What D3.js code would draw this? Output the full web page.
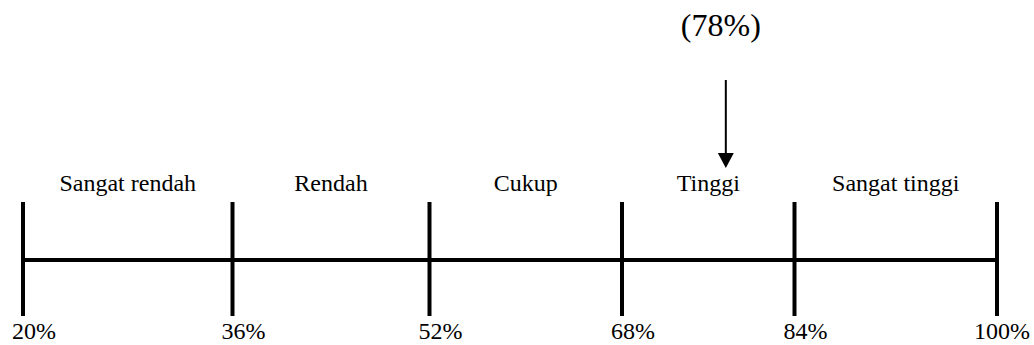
<!DOCTYPE html>
<html>
<head>
<meta charset="utf-8">
<script src="https://cdn.jsdelivr.net/npm/d3@7"></script>
<style>
  html, body { margin: 0; padding: 0; background: #fff; }
  svg { display: block; }
  text { font-family: "Liberation Serif", "Times New Roman", serif; fill: #000; }
</style>
</head>
<body>
<svg id="chart" width="1034" height="345"></svg>
<script>
// ---- data ----
const tickValues = [20, 36, 52, 68, 84, 100];
const tickLabels = ["20%", "36%", "52%", "68%", "84%", "100%"];
const categories = ["Sangat rendah", "Rendah", "Cukup", "Tinggi", "Sangat tinggi"];
const markerValue = [78];
const markerLabel = ["(78%)"];

// ---- layout ----
const W = 1034, H = 345;
const svg = d3.select("#chart");
// polylinear scale: reference spacing between breakpoints is not uniform
const x = d3.scaleLinear()
  .domain(tickValues)
  .range([23, 232.5, 429.5, 622, 794.5, 997]);

const lineY = 260, tickTop = 202, tickBottom = 316;

// main horizontal line
svg.append("line")
  .attr("x1", x(tickValues[0])).attr("x2", x(tickValues[tickValues.length - 1]))
  .attr("y1", lineY).attr("y2", lineY)
  .attr("stroke", "#000").attr("stroke-width", 4);

// ticks
svg.selectAll("line.tick").data(tickValues).join("line")
  .attr("class", "tick")
  .attr("x1", d => x(d)).attr("x2", d => x(d))
  .attr("y1", tickTop).attr("y2", tickBottom)
  .attr("stroke", "#000").attr("stroke-width", 4);

// tick labels
const tl = svg.selectAll("text.tl").data(tickValues).join("text")
  .attr("class", "tl")
  .attr("y", 338.5)
  .attr("font-size", 24)
  .attr("text-anchor", "start")
  .text((d, i) => tickLabels[i]);
tl.each(function(d) {
  const w = this.getComputedTextLength();
  const px = Math.min(x(d) - 11, W - 4 - w);
  d3.select(this).attr("x", px);
});

// category labels centered in each segment
svg.selectAll("text.cat").data(categories).join("text")
  .attr("class", "cat")
  .attr("x", (d, i) => (x(tickValues[i]) + x(tickValues[i + 1])) / 2)
  .attr("y", 190.5)
  .attr("font-size", 24)
  .attr("text-anchor", "middle")
  .text(d => d);

// marker arrow
const mx = x(markerValue[0]) - 4;
svg.append("line")
  .attr("x1", mx).attr("x2", mx)
  .attr("y1", 80).attr("y2", 156)
  .attr("stroke", "#000").attr("stroke-width", 2);
svg.append("path")
  .attr("d", d3.line()([[mx - 8, 153], [mx + 8, 153], [mx, 168]]) + "Z")
  .attr("fill", "#000");
svg.append("text")
  .attr("x", mx - 5)
  .attr("y", 36)
  .attr("font-size", 32)
  .attr("text-anchor", "middle")
  .text(markerLabel[0]);
</script>
</body>
</html>
